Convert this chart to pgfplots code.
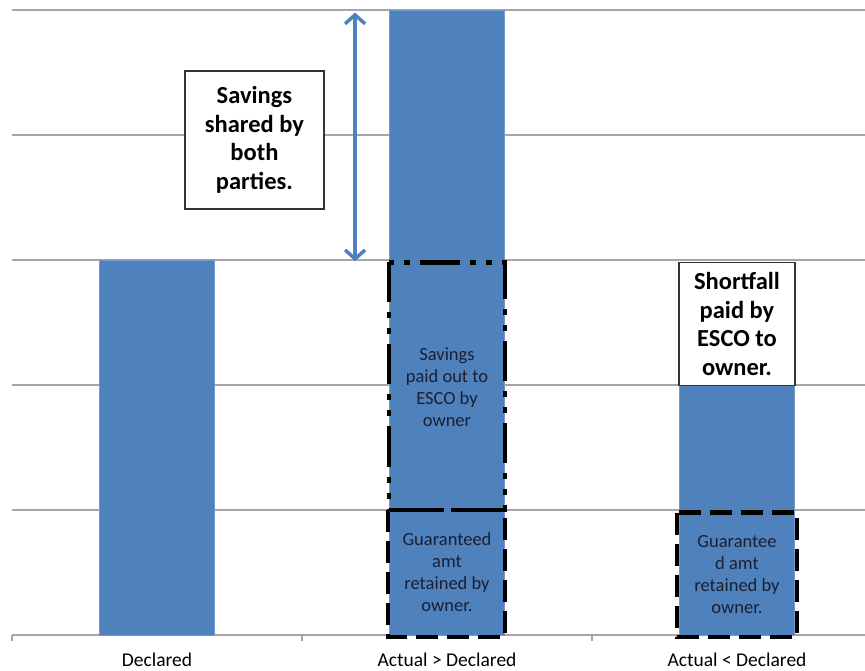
\documentclass[border=0pt]{standalone}
\usepackage{pgfplots}
\pgfplotsset{compat=1.18}
\usepackage{fontspec}
\setmainfont{Carlito}
\usetikzlibrary{arrows.meta}
\definecolor{barblue}{HTML}{4F81BD}
\definecolor{gridgray}{HTML}{A6A6A6}
\definecolor{txtdark}{HTML}{1A1F33}
\begin{document}
\begin{tikzpicture}
\path[use as bounding box] (-12pt,-35pt) rectangle (853pt,635pt);
\begin{axis}[
  at={(0,0)}, anchor=south west,
  scale only axis, width=853pt, height=625pt,
  xmin=-0.5, xmax=2.4414, ymin=0, ymax=5,
  clip=false,
  axis x line*=bottom, axis y line*=left,
  y axis line style={draw=none},
  x axis line style={gridgray, line width=1.5pt},
  ytick={1,2,3,4,5}, yticklabels={}, major y tick style={draw=none},
  ymajorgrids, grid style={gridgray, line width=1.3pt},
  xtick={0,1,2},
  xticklabels={Declared, Actual > Declared, Actual < Declared},
  major x tick style={draw=none},
  extra x ticks={-0.5,0.5,1.5}, extra x tick labels={},
  extra x tick style={major tick length=6pt, tick align=outside, major x tick style={draw=gridgray, line width=1.5pt}},
  xticklabel style={font=\fontsize{19.5}{23}\selectfont, text=black, yshift=-10pt},
  ybar, bar width=115pt,
]
\addplot[fill=barblue, draw=barblue!80!white, line width=0.8pt] coordinates {(0,3) (1,5) (2,2)};

% dash-dot box on bar 2 (savings paid out)
\draw[black, line width=4.5pt, dash pattern=on 40pt off 10pt on 6pt off 10pt on 6pt off 10pt]
  (axis cs:0.8,2.98) rectangle (axis cs:1.2,1.0);
% dashed boxes (guaranteed amount)
\draw[black, line width=4.5pt, dash pattern=on 22pt off 9pt]
  (axis cs:0.797,1.0) rectangle (axis cs:1.2,-0.015);
\draw[black, line width=4.5pt, dash pattern=on 22pt off 9pt]
  (axis cs:1.793,0.98) rectangle (axis cs:2.207,-0.015);

% texts inside bars
\node[align=center, text=txtdark, font=\fontsize{18.5}{22}\selectfont] at (axis cs:1,1.98)
  {Savings\\paid out to\\ESCO by\\owner};
\node[align=center, text=txtdark, font=\fontsize{18.5}{22}\selectfont] at (axis cs:1,0.5)
  {Guaranteed\\amt\\retained by\\owner.};
\node[align=center, text=txtdark, font=\fontsize{18.5}{22}\selectfont] at (axis cs:2,0.48)
  {Guarantee\\d amt\\retained by\\owner.};

% double arrow
\draw[barblue, line width=3.5pt, {Straight Barb[length=9pt,width=20pt]}-{Straight Barb[length=9pt,width=20pt]}]
  (axis cs:0.683,4.98) -- (axis cs:0.683,2.99);

% callout boxes
\node[draw=black!80, line width=1.2pt, fill=white, minimum width=139pt, minimum height=138pt,
  align=center, font=\bfseries\fontsize{24.5}{28.5}\selectfont, inner sep=0pt] at (axis cs:0.336,3.96)
  {Savings\\shared by\\both\\parties.};
\node[draw=black!80, line width=1.2pt, fill=white, minimum width=116pt, minimum height=123pt,
  align=center, font=\bfseries\fontsize{24.5}{28.5}\selectfont, inner sep=0pt] at (axis cs:2,2.49)
  {Shortfall\\paid by\\ESCO to\\owner.};
\end{axis}
\end{tikzpicture}
\end{document}
